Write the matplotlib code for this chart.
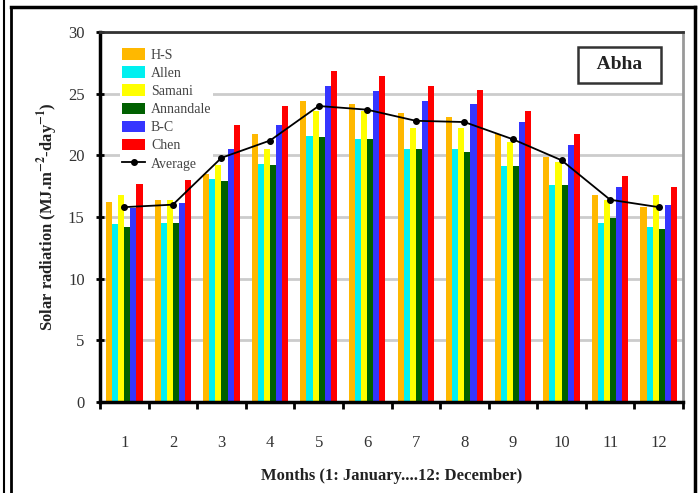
import numpy as np
import matplotlib
matplotlib.use("Agg")
import matplotlib.pyplot as plt
from matplotlib.lines import Line2D

plt.rcParams['font.family'] = ['Liberation Serif', 'DejaVu Serif']
plt.rcParams['mathtext.fontset'] = 'stix'

months = np.arange(1, 13)
month_labels = [str(m) for m in months]

hs = [16.2, 16.4, 18.5, 21.7, 24.4, 24.2, 23.4, 23.1, 21.7, 19.9, 16.8, 15.8]
allen = [14.4, 14.5, 18.1, 19.3, 21.6, 21.3, 20.5, 20.5, 19.1, 17.6, 14.5, 14.2]
samani = [16.8, 16.4, 19.2, 20.5, 23.6, 23.6, 22.2, 22.2, 21.1, 19.5, 16.4, 16.8]
annandale = [14.2, 14.5, 17.9, 19.2, 21.5, 21.3, 20.5, 20.3, 19.1, 17.6, 14.9, 14.0]
bc = [15.7, 16.1, 20.5, 22.5, 25.6, 25.2, 24.4, 24.2, 22.7, 20.8, 17.4, 16.0]
chen = [17.7, 18.0, 22.5, 24.0, 26.8, 26.4, 25.6, 25.3, 23.6, 21.7, 18.3, 17.4]
average = [15.8, 16.0, 19.8, 21.2, 24.0, 23.7, 22.8, 22.7, 21.3, 19.6, 16.4, 15.8]

series = [hs, allen, samani, annandale, bc, chen]
names = ['H-S', 'Allen', 'Samani', 'Annandale', 'B-C', 'Chen']
colors = ['#FFB800', '#00F0F0', '#FFFF00', '#006000', '#3535FF', '#FF0000']

fig = plt.figure(figsize=(7, 4.93), dpi=100)
ax = fig.add_axes([100 / 700, 1 - 402 / 493, 583 / 700, 370 / 493])

w = 0.125
handles = []
for i, (vals, name, c) in enumerate(zip(series, names, colors)):
    b = ax.bar(months + (i - 2.5) * w, vals, width=w, color=c, label=name, zorder=2)
    handles.append(b)

ln, = ax.plot(months, average, color='black', marker='o', markersize=4, lw=1.3,
              label='Average', zorder=3)
handles.append(ln)

ax.set_xlim(0.5, 12.5)
ax.set_ylim(0, 30)
ax.set_yticks(range(0, 31, 5))
ax.yaxis.grid(True, color='#cccccc', lw=2, zorder=0)
ax.set_axisbelow(True)

# ticks between months, labels at month centres
ax.set_xticks(np.arange(0.5, 13, 1))
ax.set_xticklabels([])
ax.set_xticks(months, minor=True)
ax.set_xticklabels(month_labels, minor=True)
ax.tick_params(axis='x', which='minor', length=0, pad=24, labelsize=12, labelcolor='#333333')
ax.tick_params(axis='x', which='major', direction='out', length=5, width=2)
ax.tick_params(axis='y', direction='inout', length=6, width=2, labelsize=12,
               labelcolor='#333333', pad=8)

for s in ['left', 'bottom']:
    ax.spines[s].set_linewidth(2.5)
ax.spines['top'].set_color('#333333')
ax.spines['top'].set_linewidth(2)
ax.spines['right'].set_color('#999999')
ax.spines['right'].set_linewidth(2)

ax.set_xlabel('Months (1: January....12: December)', fontsize=12, fontweight='bold',
              color='#222222', labelpad=12)
ax.set_ylabel(r'Solar radiation (MJ.m$^{\mathbf{-2}}$-day$^{\mathbf{-1}}$)', fontsize=12,
              fontweight='bold', color='#222222', labelpad=6)

leg = ax.legend(handles=handles, labels=names + ['Average'], loc='upper left',
                frameon=True, fontsize=10, handlelength=1.7, handleheight=0.9,
                labelspacing=0.33, borderaxespad=0.0, borderpad=0.1, handletextpad=0.4,
                bbox_to_anchor=(0.035, 0.96))
leg.get_frame().set_facecolor('white')
leg.get_frame().set_edgecolor('none')
leg.get_frame().set_alpha(1)
leg.set_zorder(1.5)
for t in leg.get_texts():
    t.set_color('#444444')

ax.text(0.891, 0.911, '  Abha  ', transform=ax.transAxes, fontsize=14, fontweight='bold',
        ha='center', va='center', color='#222222',
        bbox=dict(boxstyle='square,pad=0.5', fc='white', ec='#333333', lw=1.8))

# outer frame
fig.add_artist(Line2D([4 / 700, 4 / 700], [0, 1], color='black', lw=1.5))
fig.add_artist(Line2D([11 / 700, 11 / 700], [0, 1 - 7 / 493], color='black', lw=2))
fig.add_artist(Line2D([11 / 700, 695 / 700], [1 - 7 / 493, 1 - 7 / 493], color='black', lw=2.5))
fig.add_artist(Line2D([695 / 700, 695 / 700], [0, 1 - 7 / 493], color='black', lw=2.5))

fig.savefig('out.png', dpi=100)
